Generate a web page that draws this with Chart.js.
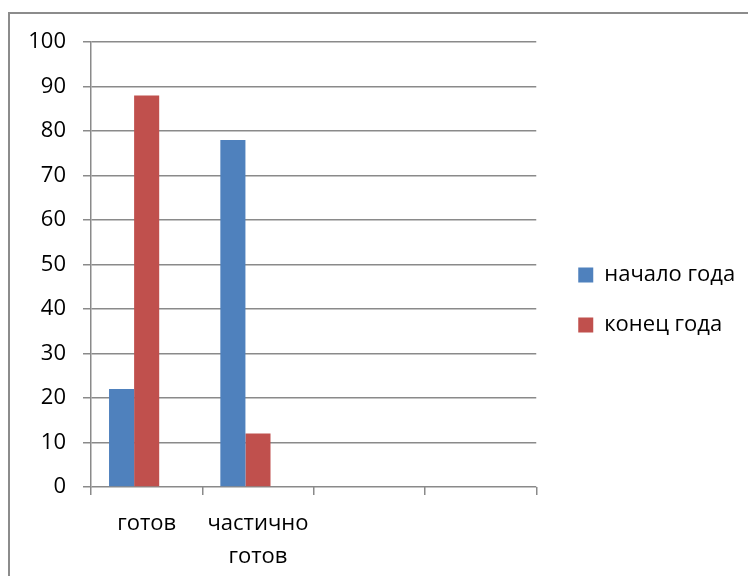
<!DOCTYPE html>
<html>
<head>
<meta charset="utf-8">
<script src="https://cdn.jsdelivr.net/npm/chart.js@4/dist/chart.umd.min.js"></script>
<style>
  html, body { margin: 0; padding: 0; background: #fff; overflow: hidden; }
  #frame { position: absolute; left: 8px; top: 12px; width: 800px; height: 700px; border: 2px solid #8c8c8c; }
  #wrap { position: absolute; left: 0; top: 0; width: 748px; height: 576px; }
</style>
</head>
<body>
<div id="frame"></div>
<div id="wrap"><canvas id="chart" width="748" height="576"></canvas></div>
<script>
const categories = ['готов', ['частично', 'готов'], '', ''];
const seriesNames = ['начало года', 'конец года'];
const startOfYear = [22, 78, null, null];
const endOfYear = [88, 12, null, null];
// empty third series, keeps the Excel-style slot to the right of the bars
const emptySeries = [null, null, null, null];

const gridColor = '#8a8a8a';
const font = { family: '"Open Sans", "Noto Sans", sans-serif', size: 22 };

// nudge legend away from plot area and up a little
const legendShift = {
  id: 'legendShift',
  afterLayout(chart) {
    const lg = chart.legend;
    lg.left += 14;
    lg.right += 40;
    lg.width += 26;
    lg.top -= 9;
    lg.bottom -= 9;
  }
};

const ctx = document.getElementById('chart').getContext('2d');
new Chart(ctx, {
  type: 'bar',
  data: {
    labels: categories,
    datasets: [
      { label: seriesNames[0], data: startOfYear, backgroundColor: '#4f81bd' },
      { label: seriesNames[1], data: endOfYear, backgroundColor: '#c0504d' },
      { label: '', data: emptySeries, backgroundColor: '#9bbb59' }
    ]
  },
  plugins: [legendShift],
  options: {
    responsive: false,
    animation: false,
    layout: { padding: { top: 42, bottom: 0, left: 0, right: 33 } },
    datasets: {
      bar: { categoryPercentage: 0.676, barPercentage: 1 }
    },
    plugins: {
      tooltip: { enabled: false },
      legend: {
        position: 'right',
        labels: {
          font: font,
          color: '#000',
          boxWidth: 15,
          boxHeight: 15,
          padding: 28,
          filter: item => item.text !== ''
        }
      }
    },
    scales: {
      x: {
        grid: { drawOnChartArea: false, drawTicks: true, tickLength: 8, color: gridColor, lineWidth: 1.5 },
        border: { display: false },
        ticks: { font: { ...font, lineHeight: 1.5 }, color: '#000', padding: 12, maxRotation: 0, autoSkip: false },
        afterFit(scale) { scale.height = 89; }
      },
      y: {
        min: 0,
        max: 100,
        grid: { color: gridColor, lineWidth: 1.5, tickLength: 8 },
        border: { color: gridColor, width: 1.5 },
        ticks: { stepSize: 10, font: font, color: '#000', padding: 17 },
        afterFit(scale) { scale.width = 91; }
      }
    }
  }
});
</script>
</body>
</html>
